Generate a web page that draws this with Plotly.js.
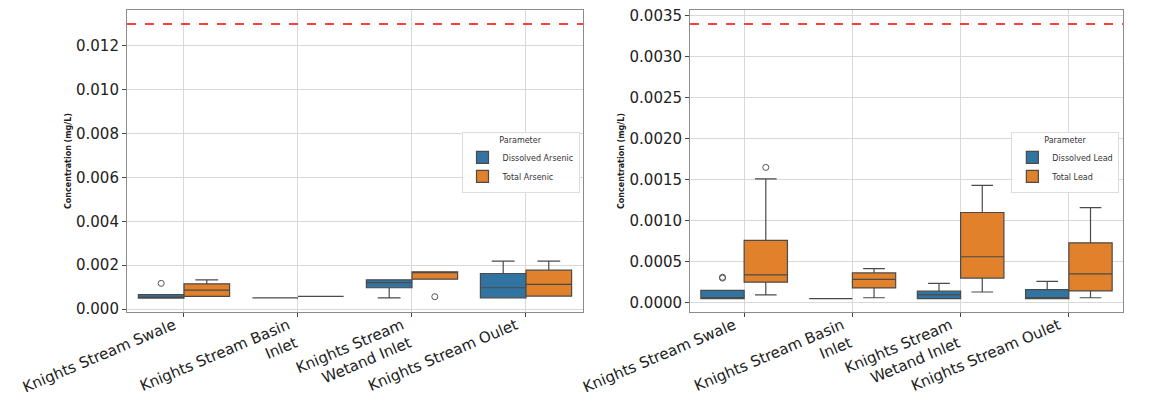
<!DOCTYPE html>
<html>
<head>
<meta charset="utf-8">
<script src="https://cdn.plot.ly/plotly-3.0.1.min.js"></script>
<style>html,body{margin:0;padding:0;background:#fff;}#chart{width:1166px;height:405px;}</style>
</head>
<body>
<div id="chart"></div>
<script>
// Categories (sites)
const sites = ["Knights Stream Swale", "Knights Stream Basin<br>Inlet", "Knights Stream<br>Wetand Inlet", "Knights Stream Oulet"];

// Arsenic (mg/L) – box statistics per site
const asDissLabel = "Dissolved Arsenic";
const asDissLow = [0.00050, 0.00051, 0.00051, 0.00051];
const asDissQ1 = [0.00050, 0.00051, 0.00097, 0.00051];
const asDissMed = [0.00050, 0.00051, 0.00120, 0.00097];
const asDissQ3 = [0.00066, 0.00051, 0.00133, 0.00162];
const asDissHigh = [0.00066, 0.00051, 0.00133, 0.00218];
const asDissOutSite = [0];
const asDissOutVal = [0.00117];

const asTotLabel = "Total Arsenic";
const asTotLow = [0.00058, 0.00058, 0.00136, 0.00059];
const asTotQ1 = [0.00058, 0.00058, 0.00136, 0.00059];
const asTotMed = [0.00086, 0.00058, 0.00167, 0.00112];
const asTotQ3 = [0.00115, 0.00058, 0.00170, 0.00177];
const asTotHigh = [0.00133, 0.00058, 0.00170, 0.00218];
const asTotOutSite = [2];
const asTotOutVal = [0.00056];

const asGuideline = 0.013;

// Lead (mg/L) – box statistics per site
const pbDissLabel = "Dissolved Lead";
const pbDissLow = [0.00005, 0.00005, 0.00005, 0.00005];
const pbDissQ1 = [0.00005, 0.00005, 0.00005, 0.00005];
const pbDissMed = [0.00005, 0.00005, 0.000094, 0.00005];
const pbDissQ3 = [0.00015, 0.00005, 0.00014, 0.00016];
const pbDissHigh = [0.00015, 0.00005, 0.000236, 0.00026];
const pbDissOutSite = [0, 0];
const pbDissOutVal = [0.00030, 0.00031];

const pbTotLabel = "Total Lead";
const pbTotLow = [0.000094, 0.00006, 0.00013, 0.00006];
const pbTotQ1 = [0.00025, 0.00018, 0.00030, 0.000143];
const pbTotMed = [0.00034, 0.000285, 0.00056, 0.00035];
const pbTotQ3 = [0.00076, 0.000363, 0.00110, 0.00073];
const pbTotHigh = [0.00151, 0.000416, 0.00143, 0.00116];
const pbTotOutSite = [0];
const pbTotOutVal = [0.00165];

const pbGuideline = 0.0034;

// Styling
const BLUE = "#3274a1", ORANGE = "#e1812c", EDGE = "#4a4a4a";
const BOXW = 0.4;
const idx = sites.map((_, i) => i);
const pos = (i, h) => i + (h - 0.5) * BOXW;

function boxTrace(name, color, low, q1, med, q3, high, h, xa, ya, leg) {
  return {
    type: "box", name: name, xaxis: xa, yaxis: ya, legend: leg,
    x: idx.map(i => pos(i, h)),
    lowerfence: low, q1: q1, median: med, q3: q3, upperfence: high,
    width: BOXW, whiskerwidth: 0.5,
    fillcolor: color, line: {color: EDGE, width: 1.2},
    hoverinfo: "skip"
  };
}
function outTrace(sitesIdx, vals, h, xa, ya) {
  return {
    type: "scatter", mode: "markers", showlegend: false, xaxis: xa, yaxis: ya,
    x: sitesIdx.map(i => pos(i, h)), y: vals,
    marker: {symbol: "circle-open", size: 6, color: "#555", line: {width: 1}},
    hoverinfo: "skip"
  };
}

const data = [
  boxTrace(asDissLabel, BLUE, asDissLow, asDissQ1, asDissMed, asDissQ3, asDissHigh, 0, "x", "y", "legend"),
  boxTrace(asTotLabel, ORANGE, asTotLow, asTotQ1, asTotMed, asTotQ3, asTotHigh, 1, "x", "y", "legend"),
  outTrace(asDissOutSite, asDissOutVal, 0, "x", "y"),
  outTrace(asTotOutSite, asTotOutVal, 1, "x", "y"),
  boxTrace(pbDissLabel, BLUE, pbDissLow, pbDissQ1, pbDissMed, pbDissQ3, pbDissHigh, 0, "x2", "y2", "legend2"),
  boxTrace(pbTotLabel, ORANGE, pbTotLow, pbTotQ1, pbTotMed, pbTotQ3, pbTotHigh, 1, "x2", "y2", "legend2"),
  outTrace(pbDissOutSite, pbDissOutVal, 0, "x2", "y2"),
  outTrace(pbTotOutSite, pbTotOutVal, 1, "x2", "y2")
];

const FONT = "DejaVu Sans, Liberation Sans, sans-serif";
const xCommon = {
  tickmode: "array", tickvals: idx, ticktext: sites, range: [-0.5, 3.5],
  tickangle: -23, tickfont: {size: 15, color: "#222"},
  ticklabelshift: -10, ticklabelstandoff: -6,
  showgrid: true, gridcolor: "#d9d9d9", gridwidth: 1,
  ticks: "outside", ticklen: 4, tickcolor: "#444",
  showline: true, linecolor: "#8c8c8c", linewidth: 1, mirror: true, zeroline: false
};
const yCommon = {
  tickfont: {size: 15, color: "#222"},
  showgrid: true, gridcolor: "#d9d9d9", gridwidth: 1,
  ticks: "outside", ticklen: 4, tickcolor: "#444",
  showline: true, linecolor: "#8c8c8c", linewidth: 1, mirror: true, zeroline: false,
  title: {text: "Concentration (mg/L)", font: {size: 8, weight: "bold", color: "#222"}, standoff: 3}
};
const legCommon = {
  bgcolor: "rgba(255,255,255,0.9)", bordercolor: "#dddddd", borderwidth: 1,
  font: {size: 8, color: "#333"}, title: {text: "Parameter", side: "top center", font: {size: 8, color: "#333"}},
  xanchor: "right", yanchor: "middle", tracegroupgap: 0, itemwidth: 30
};

const layout = {
  width: 1166, height: 405, margin: {l: 0, r: 0, t: 0, b: 0},
  paper_bgcolor: "#fff", plot_bgcolor: "#fff",
  font: {family: FONT},
  boxmode: "overlay",
  xaxis: Object.assign({}, xCommon, {domain: [0.1089, 0.5], anchor: "y"}),
  yaxis: Object.assign({}, yCommon, {domain: [0.2296, 0.9753], anchor: "x", range: [-0.000137, 0.01364], dtick: 0.002, tickformat: ".3f"}),
  xaxis2: Object.assign({}, xCommon, {domain: [0.5918, 0.9631], anchor: "y2"}),
  yaxis2: Object.assign({}, yCommon, {domain: [0.2296, 0.9753], anchor: "x2", range: [-0.000114, 0.00357], dtick: 0.0005, tickformat: ".4f"}),
  legend: Object.assign({}, legCommon, {x: 0.497, y: 0.6}),
  legend2: Object.assign({}, legCommon, {x: 0.96, y: 0.6}),
  shapes: [
    {type: "line", xref: "x domain", yref: "y", x0: 0, x1: 1, y0: asGuideline, y1: asGuideline, line: {color: "red", width: 1.5, dash: "dash"}},
    {type: "line", xref: "x2 domain", yref: "y2", x0: 0, x1: 1, y0: pbGuideline, y1: pbGuideline, line: {color: "red", width: 1.5, dash: "dash"}}
  ]
};

Plotly.newPlot("chart", data, layout, {staticPlot: true, displayModeBar: false});
</script>
</body>
</html>
